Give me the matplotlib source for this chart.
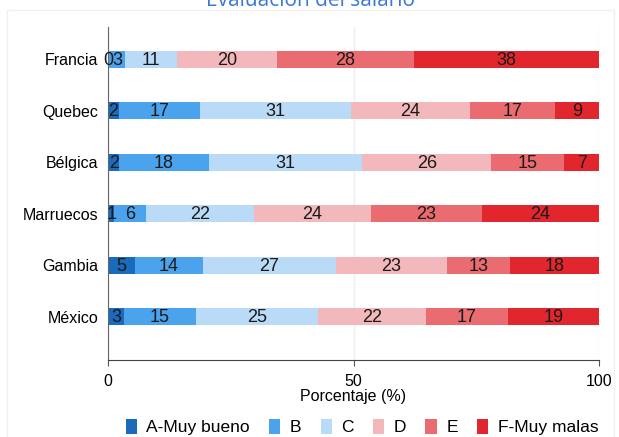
import numpy as np
import matplotlib
matplotlib.use("Agg")
import matplotlib.pyplot as plt
from matplotlib.patches import Rectangle

paises = ["Francia", "Quebec", "Bélgica", "Marruecos", "Gambia", "México"]
categorias = ["A-Muy bueno", "B", "C", "D", "E", "F-Muy malas"]
colores = ["#1b6bbd", "#4aa3ec", "#b9dbf7", "#f3b8bb", "#eb6c70", "#e2262e"]

# porcentajes por categoría (A..F), un valor por país
a_muy_bueno = [0.3, 2.2, 2.3, 1.3, 5.4, 3.2]
b = [3.2, 16.6, 18.2, 6.4, 14.0, 14.8]
c = [10.6, 30.7, 31.3, 22.0, 27.0, 24.7]
d = [20.3, 24.2, 26.3, 23.8, 22.6, 22.0]
e = [27.9, 17.4, 14.8, 22.6, 12.8, 16.7]
f_muy_malas = [37.7, 8.9, 7.1, 23.9, 18.2, 18.6]

series = [a_muy_bueno, b, c, d, e, f_muy_malas]

plt.rcParams["font.family"] = ["Liberation Sans", "DejaVu Sans"]

fig = plt.figure(figsize=(6.19, 4.37), dpi=100)
ax = fig.add_axes([108 / 619, 1 - 360 / 437, 491 / 619, 333 / 437])

# marco gris claro alrededor del gráfico
fig.patches.append(Rectangle((7 / 619, -0.01), 607 / 619, 1 - 10 / 437 + 0.01,
                             transform=fig.transFigure, fill=False,
                             edgecolor="#f0f0f0", linewidth=1))

y = np.arange(len(paises))
izq = np.zeros(len(paises))
for nombre, vals, col in zip(categorias, series, colores):
    vals = np.array(vals)
    ax.barh(y, vals, left=izq, height=0.33, color=col, label=nombre, zorder=2)
    for yi, l, v in zip(y, izq, vals):
        ax.text(l + v / 2, yi + 0.02, f"{round(v)}", ha="center", va="center",
                fontsize=13, color="#1a1a1a", zorder=3)
    izq += vals

ax.set_xlim(0, 100)
ax.set_ylim(5.84, -0.63)
ax.set_yticks(y)
ax.set_yticklabels(paises, fontsize=11.5)
ax.tick_params(axis="y", length=0, pad=7)
ax.set_xticks([0, 50, 100])
ax.tick_params(axis="x", labelsize=11.5, length=4, color="#555555", pad=6)
ax.set_xlabel("Porcentaje (%)", fontsize=11.5, labelpad=0)
ax.grid(axis="x", color="#eeeeee", linewidth=1, zorder=0)
for s in ["top", "right"]:
    ax.spines[s].set_visible(False)
ax.spines["left"].set_color("#666666")
ax.spines["bottom"].set_color("#444444")

fig.legend(loc="center", bbox_to_anchor=(362 / 619, 1 - 427 / 437), ncol=6,
           frameon=False, fontsize=12.5, handlelength=0.65, handleheight=1.0,
           handletextpad=0.55, columnspacing=1.1)

fig.text(310 / 619, 1 - 1 / 437, "Evaluación del salario", ha="center",
         va="center", fontsize=15, color="#3a78d8", family="Open Sans")

fig.savefig("out.png", dpi=100)
